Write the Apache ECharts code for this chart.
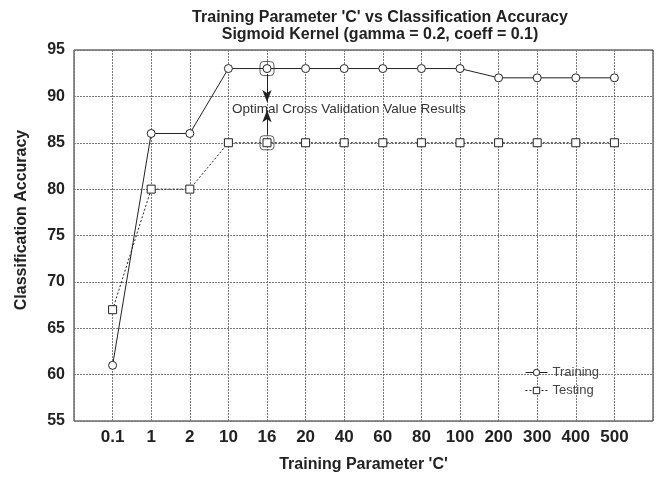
<!DOCTYPE html>
<html>
<head>
<meta charset="utf-8">
<script src="https://cdn.jsdelivr.net/npm/echarts@6/dist/echarts.min.js"></script>
<style>
  html, body { margin: 0; padding: 0; background: #fff; }
  #chart { width: 661px; height: 478px; }
</style>
</head>
<body>
<div id="chart"></div>
<script>
  const cLabels = ['0.1', '1', '2', '10', '16', '20', '40', '60', '80', '100', '200', '300', '400', '500'];
  const training = [61, 86, 86, 93, 93, 93, 93, 93, 93, 93, 92, 92, 92, 92];
  const testing = [67, 80, 80, 85, 85, 85, 85, 85, 85, 85, 85, 85, 85, 85];
  const optimalIndex = 4; // C = 16

  const font = 'Liberation Sans, Arial, sans-serif';
  const pos = (i) => i + 1;

  const chart = echarts.init(document.getElementById('chart'));

  chart.setOption({
    animation: false,
    backgroundColor: '#fff',
    title: {
      text: "Training Parameter 'C' vs Classification Accuracy\nSigmoid Kernel (gamma = 0.2, coeff = 0.1)",
      left: 375,
      top: 4,
      textAlign: 'center',
      textStyle: {
        fontFamily: font,
        fontSize: 16,
        fontWeight: 'bold',
        color: '#222',
        lineHeight: 17,
      },
    },
    graphic: [
      {
        type: 'text',
        x: 22,
        y: 220,
        rotation: Math.PI / 2,
        style: {
          text: 'Classification Accuracy',
          fontFamily: font,
          fontSize: 16,
          fontWeight: 'bold',
          fill: '#222',
          align: 'center',
          verticalAlign: 'middle',
        },
      },
    ],
    grid: {
      left: 74,
      right: 8,
      top: 50,
      bottom: 54,
      containLabel: false,
      show: true,
      borderColor: '#222',
      borderWidth: 1,
    },
    legend: {
      orient: 'vertical',
      left: 520,
      top: 361,
      itemWidth: 22,
      itemHeight: 8,
      itemGap: 5,
      itemStyle: { borderWidth: 1 },
      lineStyle: { width: 1 },
      textStyle: { fontFamily: font, fontSize: 13, color: '#444' },
      data: ['Training', 'Testing'],
    },
    xAxis: {
      type: 'value',
      min: 0,
      max: 15,
      interval: 1,
      name: "Training Parameter 'C'",
      nameLocation: 'middle',
      nameGap: 36,
      nameTextStyle: { fontFamily: font, fontSize: 16, fontWeight: 'bold', color: '#222' },
      axisLine: { show: false },
      axisTick: { show: false },
      axisLabel: {
        margin: 8,
        fontFamily: font,
        fontSize: 17,
        fontWeight: 'bold',
        color: '#222',
        showMinLabel: false,
        showMaxLabel: false,
        formatter: (v) => (v >= 1 && v <= cLabels.length ? cLabels[v - 1] : ''),
      },
      splitLine: { lineStyle: { color: '#777', type: [2, 1], width: 1 } },
    },
    yAxis: {
      type: 'value',
      min: 55,
      max: 95,
      interval: 5,
      axisLine: { show: false },
      axisTick: { show: false },
      axisLabel: {
        margin: 9,
        fontFamily: font,
        fontSize: 16,
        fontWeight: 'bold',
        color: '#222',
      },
      splitLine: { lineStyle: { color: '#777', type: [2, 1], width: 1 } },
    },
    series: [
      {
        name: 'Training',
        type: 'line',
        data: training.map((v, i) => [pos(i), v]),
        symbol: 'circle',
        symbolSize: 8,
        itemStyle: { color: '#fff', borderColor: '#222', borderWidth: 1 },
        lineStyle: { color: '#222', width: 1, type: 'solid' },
        markLine: {
          silent: true,
          symbol: ['none', 'arrow'],
          symbolSize: [7, 12],
          lineStyle: { color: '#222', width: 1, type: 'solid' },
          label: { show: false },
          data: [
            [{ coord: [pos(optimalIndex), 92.4] }, { coord: [pos(optimalIndex), 89.4] }],
            [{ coord: [pos(optimalIndex), 85.9] }, { coord: [pos(optimalIndex), 88.5] }],
          ],
        },
        markPoint: {
          silent: true,
          data: [
            {
              coord: [7.12, 88.65],
              symbol: 'circle',
              symbolSize: 0,
              label: {
                show: true,
                position: 'inside',
                formatter: 'Optimal Cross Validation Value Results',
                fontFamily: font,
                fontSize: 13.5,
                color: '#333',
              },
            },
          ],
        },
      },
      {
        name: 'Testing',
        type: 'line',
        data: testing.map((v, i) => [pos(i), v]),
        symbol: 'rect',
        symbolSize: 8,
        itemStyle: { color: '#fff', borderColor: '#222', borderWidth: 1 },
        lineStyle: { color: '#222', width: 1, type: [2, 2] },
      },
      {
        name: 'Optimal',
        type: 'scatter',
        data: [
          [pos(optimalIndex), training[optimalIndex]],
          [pos(optimalIndex), testing[optimalIndex]],
        ],
        symbol: 'roundRect',
        symbolSize: 14,
        z: 1,
        itemStyle: { color: 'rgba(0,0,0,0)', borderColor: '#333', borderWidth: 1 },
        silent: true,
      },
    ],
  });
</script>
</body>
</html>
